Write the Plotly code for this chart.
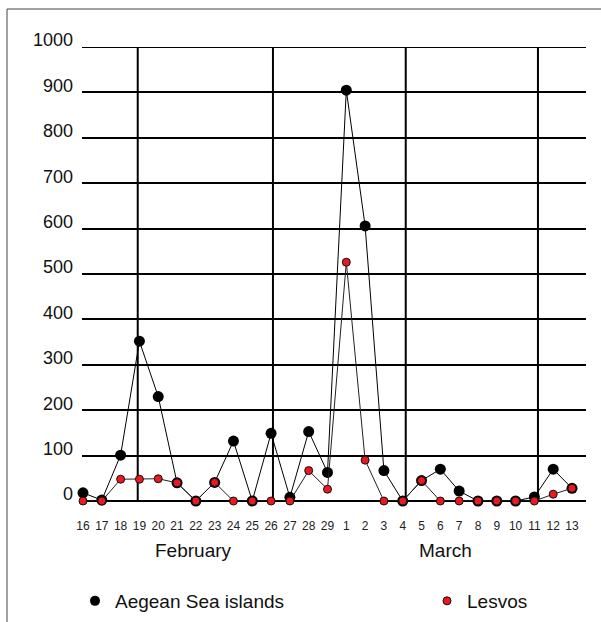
import plotly.graph_objects as go

days = ["16", "17", "18", "19", "20", "21", "22", "23", "24", "25", "26", "27", "28", "29",
        "1", "2", "3", "4", "5", "6", "7", "8", "9", "10", "11", "12", "13"]
aegean = [18, 2, 101, 352, 230, 40, 0, 41, 132, 0, 149, 8, 153, 63,
          905, 606, 67, 0, 45, 70, 22, 0, 0, 0, 9, 70, 28]
lesvos = [0, 0, 48, 48, 49, 40, 0, 41, 0, 0, 0, 0, 67, 26,
          526, 90, 0, 0, 45, 0, 0, 0, 0, 0, 0, 15, 28]
y_ticks = [0, 100, 200, 300, 400, 500, 600, 700, 800, 900, 1000]
week_lines = [2.91, 10.1, 17.16, 24.19]
month_labels = [("February", 5.85), ("March", 19.3)]

FONT = "Liberation Sans, Arial, sans-serif"
idx = list(range(len(days)))

W, H = 601, 622
L, R, T, B = 82, 15, 47, 121
pw, ph = W - L - R, H - T - B
def px(xp):
    return (xp - L) / pw
def py(yp):
    return (H - B - yp) / ph

black_marker = dict(color="black", size=11, line=dict(width=0))
red_marker = dict(color="#e8191f", size=8, line=dict(color="#111", width=1))

fig = go.Figure()
fig.add_trace(go.Scatter(
    x=idx, y=aegean, mode="lines+markers", name="Aegean Sea islands",
    line=dict(color="black", width=1), marker=black_marker,
    cliponaxis=False, showlegend=False,
))
fig.add_trace(go.Scatter(
    x=idx, y=lesvos, mode="lines+markers", name="Lesvos",
    line=dict(color="#222", width=1), marker=red_marker,
    cliponaxis=False, showlegend=False,
))
# legend entries (marker only)
fig.add_trace(go.Scatter(x=[None], y=[None], mode="markers", name="Aegean Sea islands",
                         marker=dict(color="black", size=10), legend="legend"))
fig.add_trace(go.Scatter(x=[None], y=[None], mode="markers", name="Lesvos",
                         marker=dict(color="#e8191f", size=8, line=dict(color="#111", width=1)),
                         legend="legend2"))

shapes = []
for xv in week_lines:
    shapes.append(dict(type="line", xref="x", yref="y", x0=xv, x1=xv, y0=0, y1=1000,
                       line=dict(color="black", width=2), layer="below"))
# top grid line (at range edge)
shapes.append(dict(type="line", xref="paper", yref="y", x0=0, x1=1, y0=1000, y1=1000,
                   line=dict(color="black", width=2), layer="below"))
# outer frame (top and left edges of the original panel)
shapes.append(dict(type="line", xref="paper", yref="paper", x0=px(7), x1=px(601),
                   y0=py(9), y1=py(9), line=dict(color="#444", width=1)))
shapes.append(dict(type="line", xref="paper", yref="paper", x0=px(7), x1=px(7),
                   y0=py(9), y1=py(622), line=dict(color="#444", width=1)))

annotations = []
for text, xv in month_labels:
    annotations.append(dict(text=text, x=xv, xref="x", y=py(550), yref="paper",
                            showarrow=False, font=dict(family=FONT, size=19, color="#111"),
                            xanchor="center", yanchor="middle"))

leg_common = dict(font=dict(family=FONT, size=19, color="#111"),
                  bgcolor="rgba(0,0,0,0)", borderwidth=0, itemsizing="trace",
                  yanchor="middle", xanchor="left")
fig.update_layout(
    width=W, height=H,
    margin=dict(l=L, r=R, t=T, b=B, autoexpand=False),
    paper_bgcolor="white", plot_bgcolor="white",
    font=dict(family=FONT, color="#111"),
    shapes=shapes, annotations=annotations,
    showlegend=True,
    legend=dict(x=px(75), y=py(601), **leg_common),
    legend2=dict(x=px(427), y=py(601), **leg_common),
)
fig.update_xaxes(
    range=[-0.053, 26.744], tickmode="array", tickvals=idx, ticktext=days,
    showgrid=False, zeroline=False, showline=False, ticks="",
    tickfont=dict(family=FONT, size=12, color="#222"), ticklabelstandoff=16,
)
fig.update_yaxes(
    range=[0, 1000], tickmode="array", tickvals=y_ticks,
    showgrid=True, gridcolor="black", gridwidth=2,
    zeroline=True, zerolinecolor="black", zerolinewidth=2,
    showline=False, ticks="",
    tickfont=dict(family=FONT, size=18, color="#111"),
    ticklabelshift=-7, ticklabelstandoff=8,
)

fig.write_html("out.html", config={"displayModeBar": False},
               post_script="document.body.style.margin='0';")
